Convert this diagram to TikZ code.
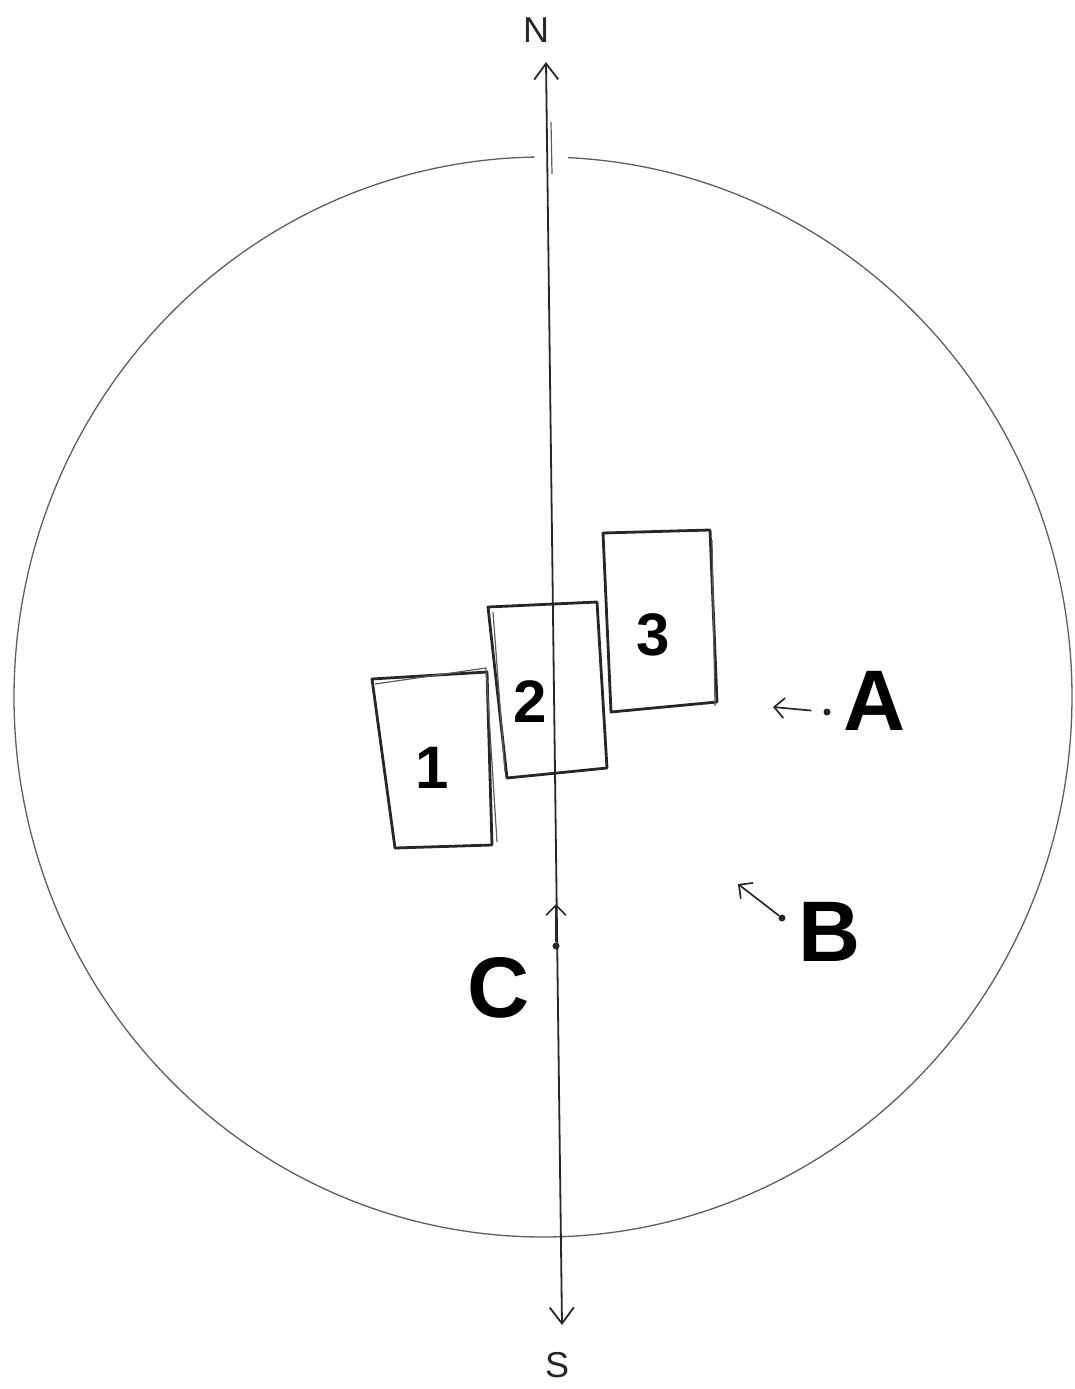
\documentclass[tikz,border=0pt]{standalone}
\usepackage{fontspec}
\setsansfont{Liberation Sans}
\usepackage{tikz}
\usetikzlibrary{arrows.meta}
\usepackage{xcolor}
\definecolor{pencil}{HTML}{262626}
\definecolor{rimgray}{HTML}{5E5E5E}

\begin{document}
\begin{tikzpicture}[
    x=1pt, y=-1pt,
    rim/.style={draw=rimgray, line width=1.3pt},
    axis/.style={draw=pencil, line width=1.8pt, {Straight Barb[length=16pt,width=24pt]}-{Straight Barb[length=16pt,width=24pt]}},
    slab/.style={draw=pencil, line width=2.8pt, line join=round},
    ghost/.style={draw=pencil!75, line width=1.2pt, line join=round},
    num/.style={font=\fontsize{60}{60}\selectfont\sffamily\bfseries, inner sep=0pt},
    tag/.style={font=\fontsize{86}{86}\selectfont\sffamily\bfseries, inner sep=0pt},
    pole/.style={font=\fontsize{36}{36}\selectfont\sffamily, text=pencil, inner sep=0pt},
    spot/.style={circle, fill=pencil, inner sep=0pt, minimum size=7pt},
    pointer/.style={draw=pencil, line width=1.7pt, -{Straight Barb[length=10pt,width=20pt]}}
]
  \useasboundingbox (0,0) rectangle (1075,1389);

  % site boundary, open where the meridian crosses it
  \coordinate (ctr) at (543,697);
  \draw[rim] (ctr) ++(272.7:529 and 540) arc[start angle=272.7, end angle=629.1, x radius=529, y radius=540];

  % meridian
  \coordinate (north) at (546,62);
  \coordinate (south) at (562,1325);
  \draw[axis] (north) -- (south);
  \draw[ghost] (551,122) -- (552,174);
  \node[pole] (N) at (536,30) {N};
  \node[pole] (S) at (557,1365) {S};

  % buildings
  \draw[slab] (372,679) -- (487,672) -- (492,845) -- (395,848) -- cycle;
  \draw[ghost] (375,684) -- (486,668) -- (497,842);
  \draw[slab] (488,607) -- (597,602) -- (607,768) -- (507,778) -- cycle;
  \draw[ghost] (493,612) -- (505,772);
  \draw[slab] (603,533) -- (710,530) -- (717,702) -- (611,712) -- cycle;
  \draw[ghost] (712,540) -- (715,706);
  \node[num] (b1) at (432,768) {1};
  \node[num] (b2) at (530,702) {2};
  \node[num] (b3) at (653,635) {3};

  % viewpoints
  \node[spot] (dotA) at (827,712) {};
  \coordinate (tipA) at (773,707);
  \draw[pointer, shorten <=12pt] (dotA) -- (tipA);
  \node[tag] (A) at (875,701) {A};

  \node[spot] (dotB) at (782,918) {};
  \coordinate (tipB) at (738,884);
  \draw[pointer] (dotB) -- (tipB);
  \node[tag] (B) at (830,932) {B};

  \node[spot] (dotC) at (556,946) {};
  \coordinate (tipC) at (556,904);
  \draw[pointer] (dotC) -- (tipC);
  \node[tag] (C) at (499,988) {C};
\end{tikzpicture}
\end{document}
